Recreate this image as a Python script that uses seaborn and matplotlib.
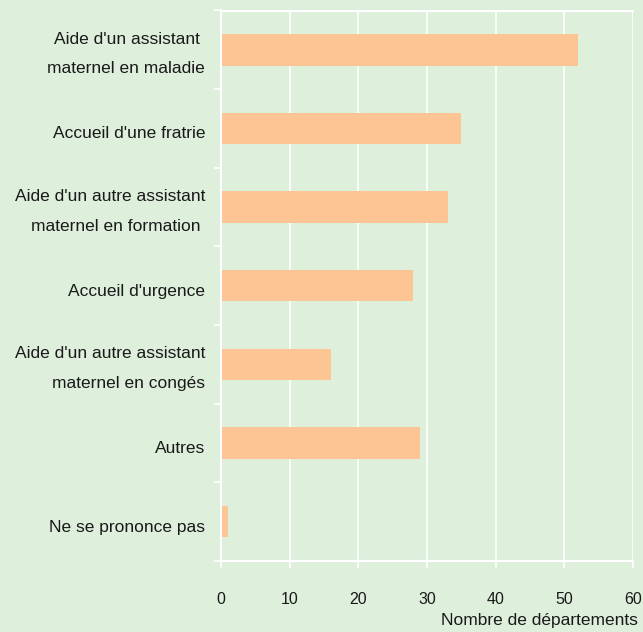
import matplotlib
matplotlib.use("Agg")
import matplotlib.pyplot as plt
import seaborn as sns
import pandas as pd
from matplotlib.ticker import FixedLocator
from matplotlib.transforms import ScaledTranslation

categories = [
    "Aide d'un assistant \nmaternel en maladie",
    "Accueil d'une fratrie",
    "Aide d'un autre assistant\nmaternel en formation ",
    "Accueil d'urgence",
    "Aide d'un autre assistant\nmaternel en congés",
    "Autres",
    "Ne se prononce pas",
]
values = [52, 35, 33, 28, 16, 29, 1]
xticks = [0, 10, 20, 30, 40, 50, 60]

bg = "#deefdc"
bar_color = "#fec594"

sns.set_theme(style="white")
plt.rcParams["font.family"] = ["Liberation Sans", "DejaVu Sans"]

df = pd.DataFrame({"cat": categories, "val": values})

fig = plt.figure(figsize=(6.43, 6.32), dpi=100, facecolor=bg)
top_px, bot_px, left_px, right_px = 10.5, 561, 221, 633
ax = fig.add_axes([left_px / 643, 1 - bot_px / 632,
                   (right_px - left_px) / 643, (bot_px - top_px) / 632])
ax.set_facecolor(bg)

sns.barplot(data=df, x="val", y="cat", color=bar_color, width=0.4,
            saturation=1, ax=ax, orient="h", linewidth=0)

ax.set_xlim(0, 60)
ax.set_ylim(6.5, -0.5)
ax.set_xticks(xticks)
ax.grid(axis="x", color="white", linewidth=1.2)
ax.grid(axis="y", visible=False)
ax.set_axisbelow(True)

ax.spines["right"].set_visible(False)
for s in ["left", "bottom", "top"]:
    ax.spines[s].set_color("white")
    ax.spines[s].set_linewidth(1.5)

ax.yaxis.set_minor_locator(FixedLocator([i + 0.5 for i in range(-1, 7)]))
ax.tick_params(axis="y", which="major", length=0, pad=11.5, labelsize=12.5, labelcolor="#1a1a1a")
ax.tick_params(axis="y", which="minor", length=5, color="white", width=1.2, left=True)
ax.tick_params(axis="x", which="major", length=5, color="white", width=1.2, pad=17,
               labelsize=11.5, labelcolor="#1a1a1a", bottom=True)
for lbl in ax.get_yticklabels():
    lbl.set_multialignment("right")
    lbl.set_linespacing(2.2)
    dy_px = 4.5 if "\n" in lbl.get_text() else -4
    lbl.set_transform(lbl.get_transform() + ScaledTranslation(0, dy_px / 100, fig.dpi_scale_trans))

ax.set_ylabel("")
ax.set_xlabel("Nombre de départements", fontsize=12.5, color="#1a1a1a")
ax.xaxis.set_label_coords((638 - left_px) / (right_px - left_px), -(620 - bot_px) / (bot_px - top_px))
ax.xaxis.label.set_horizontalalignment("right")
ax.xaxis.label.set_verticalalignment("center")

fig.savefig("out.png", dpi=100, facecolor=bg)
